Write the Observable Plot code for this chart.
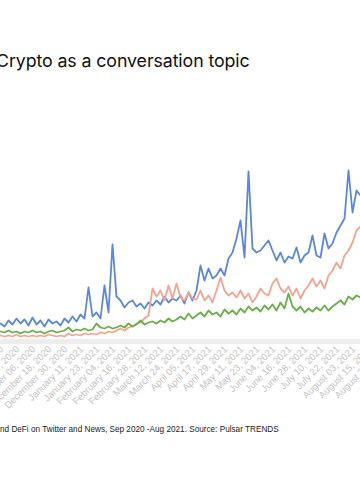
<!DOCTYPE html>
<html>
<head>
<meta charset="utf-8">
<script src="https://cdn.jsdelivr.net/npm/d3@7"></script>
<script src="https://cdn.jsdelivr.net/npm/@observablehq/plot@0.6"></script>
<style>
  html, body { margin: 0; padding: 0; background: #fff; }
  body { width: 360px; height: 500px; overflow: hidden; position: relative; }
  #title { position: absolute; left: -4px; top: 50px; font-family: Inter, "Noto Sans", sans-serif; font-size: 17.8px; color: #111; white-space: nowrap; letter-spacing: -0.1px; }
  #chart { position: absolute; left: 0; top: 130px; }
  #caption { position: absolute; left: 0; top: 425px; font-family: "Liberation Sans", Arial, sans-serif; font-size: 8.2px; color: #222; white-space: nowrap; }
</style>
</head>
<body>
<div id="title">Crypto as a conversation topic</div>
<div id="chart"></div>
<div id="caption">nd DeFi on Twitter and News, Sep 2020 -Aug 2021. Source: Pulsar TRENDS</div>
<script>
const dates = ["2020-11-11","2020-11-14","2020-11-17","2020-11-20","2020-11-23","2020-11-26","2020-11-29","2020-12-02","2020-12-05","2020-12-08",
"2020-12-11","2020-12-14","2020-12-17","2020-12-20","2020-12-23","2020-12-26","2020-12-29","2021-01-01","2021-01-04","2021-01-07",
"2021-01-10","2021-01-13","2021-01-16","2021-01-19","2021-01-22","2021-01-25","2021-01-28","2021-01-31","2021-02-03","2021-02-06",
"2021-02-09","2021-02-12","2021-02-15","2021-02-18","2021-02-21","2021-02-24","2021-02-27","2021-03-02","2021-03-05","2021-03-08",
"2021-03-11","2021-03-14","2021-03-17","2021-03-20","2021-03-23","2021-03-26","2021-03-29","2021-04-01","2021-04-04","2021-04-07",
"2021-04-10","2021-04-13","2021-04-16","2021-04-19","2021-04-22","2021-04-25","2021-04-28","2021-05-01","2021-05-04","2021-05-07",
"2021-05-10","2021-05-13","2021-05-16","2021-05-19","2021-05-22","2021-05-25","2021-05-28","2021-05-31","2021-06-03","2021-06-06",
"2021-06-09","2021-06-12","2021-06-15","2021-06-18","2021-06-21","2021-06-24","2021-06-27","2021-06-30","2021-07-03","2021-07-06",
"2021-07-09","2021-07-12","2021-07-15","2021-07-18","2021-07-21","2021-07-24","2021-07-27","2021-07-30","2021-08-02","2021-08-05",
"2021-08-08","2021-08-11"];

const bitcoin = [15,12,18,14,20,15,19,13,21,14, 18,12,19,15,17,13,20,16,22,17, 24,20,51,22,26,20,53,26,94,42,
38,31,36,38,32,35,30,36,33,38, 34,42,36,40,38,43,35,46,38,48, 73,58,70,60,63,70,63,80,86,100,
118,81,167,90,86,88,93,98,88,78, 86,76,82,80,91,76,83,86,103,83, 81,105,90,95,106,113,120,168,126,148, 143,146];

const ethereum = [3,2,3,2,4,2,3,2,3,2, 3,2,4,3,2,3,2,5,3,4, 3,5,4,5,4,6,5,7,6,8,
10,8,11,12,15,16,20,23,50,42, 48,38,53,40,55,41,38,46,40,39, 48,38,43,36,48,61,48,43,46,41,
48,40,45,36,42,50,45,43,55,60, 50,46,52,43,50,40,48,53,60,52, 58,50,63,68,76,70,83,88,96,108, 112,116];

const defi = [7,6,8,6,7,5,7,6,8,6, 7,5,7,8,6,7,8,11,7,9, 8,10,8,9,15,11,10,12,10,11,
13,11,15,12,14,18,14,16,17,15, 18,16,20,17,19,22,19,25,20,23, 26,22,28,24,26,22,29,25,28,24,
30,26,32,28,31,27,33,29,34,28, 36,30,45,32,28,32,26,30,27,31, 28,33,28,32,35,38,34,42,39,43, 41,43];

const seriesNames = ["Bitcoin", "Ethereum", "DeFi"];
const seriesColors = ["#5b87d7", "#f4a291", "#6aae4a"];

const tickDates = ["2020-10-31","2020-11-12","2020-11-24","2020-12-06","2020-12-18","2020-12-30","2021-01-11","2021-01-23","2021-02-04",
"2021-02-16","2021-02-28","2021-03-12","2021-03-24","2021-04-05","2021-04-17","2021-04-29","2021-05-11","2021-05-23",
"2021-06-04","2021-06-16","2021-06-28","2021-07-10","2021-07-22","2021-08-03","2021-08-15","2021-08-27"];

const rows = [];
[bitcoin, ethereum, defi].forEach((vals, s) => {
  vals.forEach((v, i) => rows.push({date: new Date(dates[i]), value: v, series: seriesNames[s]}));
});

const chart = Plot.plot({
  width: 360,
  height: 290,
  marginLeft: 0,
  marginRight: 0,
  marginTop: 0,
  marginBottom: 82,
  style: {background: "transparent", overflow: "visible"},
  x: {type: "utc", domain: [new Date("2020-11-11"), new Date("2021-08-08")], range: [0, 360]},
  y: {domain: [0, 208], axis: null},
  color: {domain: seriesNames, range: seriesColors},
  marks: [
    Plot.ruleY([0], {stroke: "#ededed", strokeWidth: 5, dy: 3}),
    Plot.axisX(tickDates.map(d => new Date(d)), {
      tickSize: 0, tickPadding: 9, tickRotate: -45,
      tickFormat: d3.utcFormat("%B %d, %Y"),
      fill: "#c2c2c2", fontSize: 9.6, fontFamily: "'Liberation Sans', Arial, sans-serif"
    }),
    Plot.line(rows, {x: "date", y: "value", z: "series", stroke: "series", strokeWidth: 1.8, curve: "linear"})
  ]
});
document.getElementById("chart").appendChild(chart);
</script>
</body>
</html>
